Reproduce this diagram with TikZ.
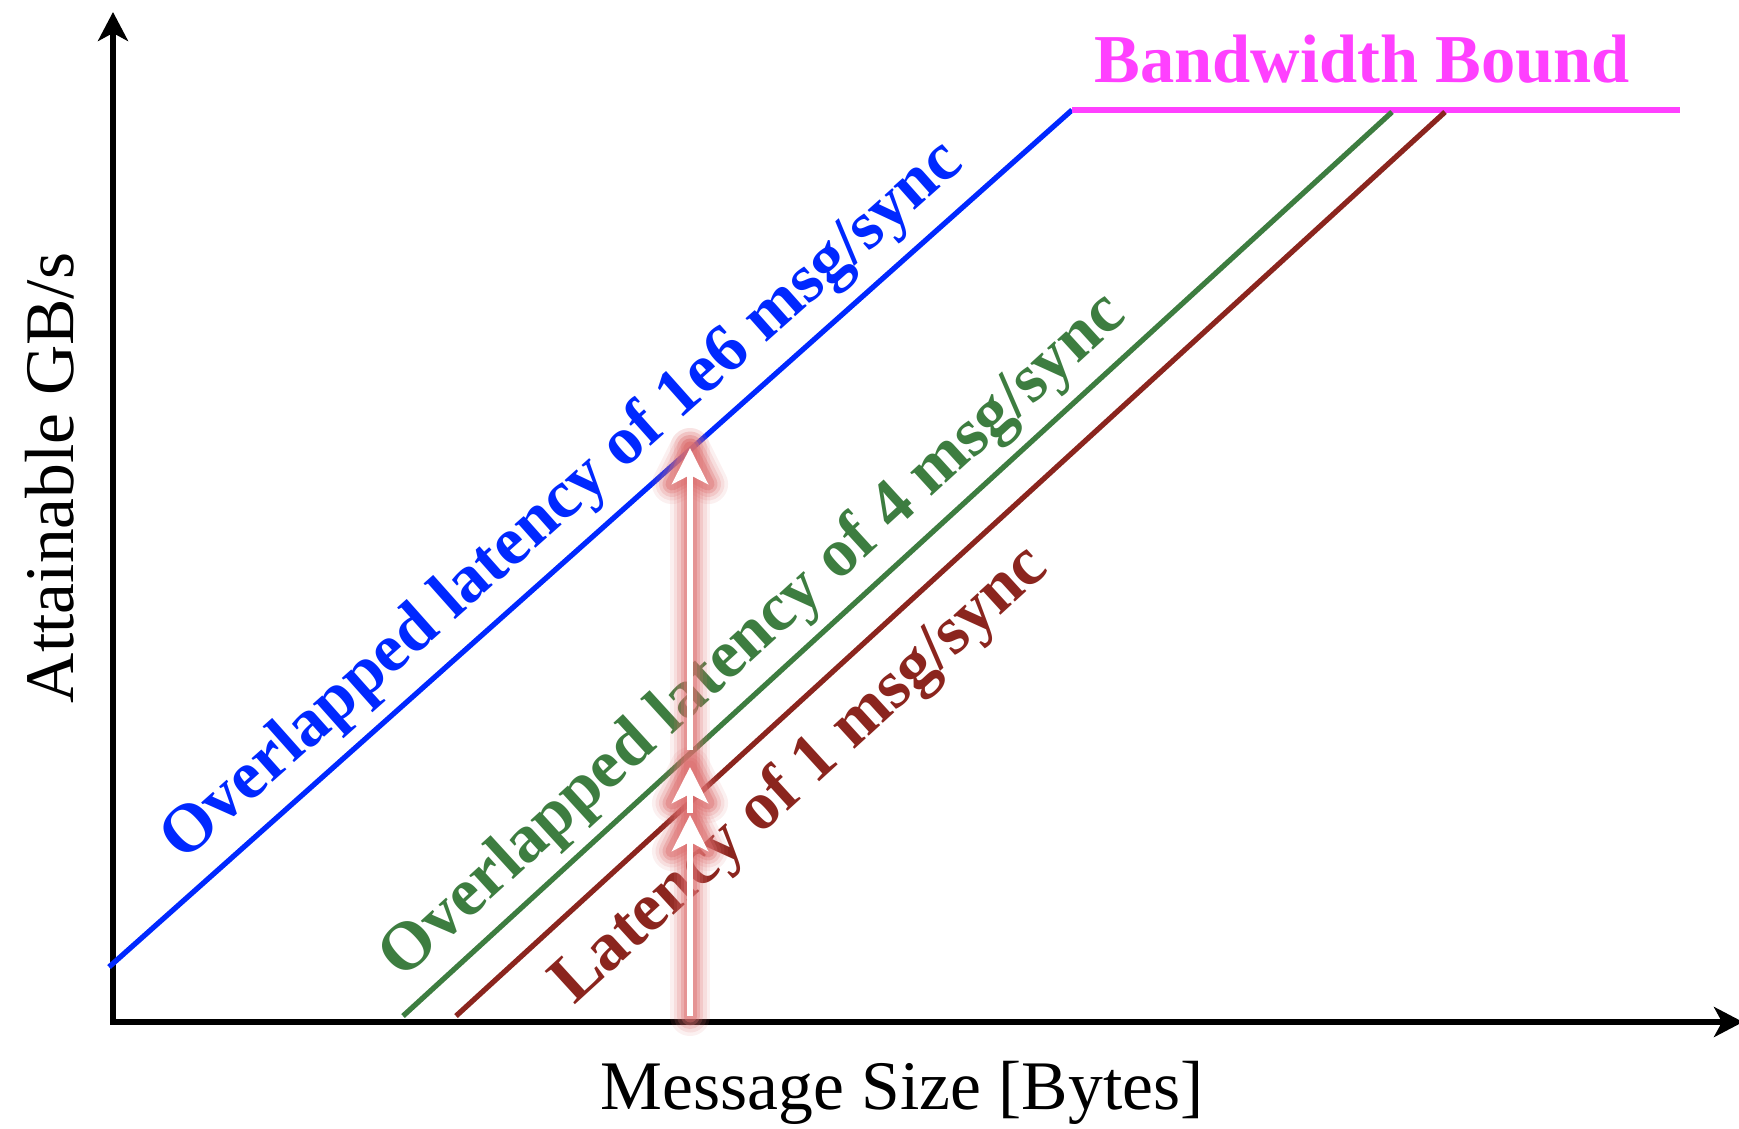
\documentclass[tikz,border=0pt]{standalone}
\usepackage{fontspec}
\setmainfont{Liberation Serif}
\usetikzlibrary{arrows.meta, positioning}

\definecolor{bwmagenta}{RGB}{255,64,255}
\definecolor{ovblue}{RGB}{0,40,255}
\definecolor{ovgreen}{RGB}{61,125,64}
\definecolor{latred}{RGB}{139,37,30}
\definecolor{glowpink}{RGB}{220,110,110}

\begin{document}
\begin{tikzpicture}[
    axis/.style={line width=1.6pt, {Stealth[length=0.29cm, width=0.3cm, inset=0.08cm]}-{Stealth[length=0.29cm, width=0.3cm, inset=0.08cm]}},
    bound/.style={line width=1.5pt},
    lbl/.style={font=\fontsize{19.5}{24}\selectfont\bfseries, inner sep=0pt},
    axlbl/.style={font=\fontsize{19.8}{24}\selectfont, inner sep=0pt},
    jump/.style={white, line width=1.8pt, -{Stealth[length=0.36cm, width=0.36cm, inset=0.09cm]}}
  ]
\useasboundingbox (0,0) rectangle (17.39,11.28);

% axes
\coordinate (ytop) at (1.13,11.16);
\coordinate (origin) at (1.13,1.06);
\coordinate (xend) at (17.43,1.06);
\draw[axis] (ytop) -- (origin) -- (xend);

% bounds
\coordinate (b0) at (1.09,1.61);
\coordinate (b1) at (10.72,10.18);
\coordinate (bw) at (16.80,10.18);
\coordinate (g0) at (4.03,1.12);
\coordinate (g1) at (13.92,10.16);
\coordinate (r0) at (4.56,1.12);
\coordinate (r1) at (14.45,10.16);
\draw[bound, ovblue] (b0) -- (b1);
\draw[bound, bwmagenta] (b1) -- (bw);
\draw[bound, ovgreen] (g0) -- (g1);
\draw[bound, latred] (r0) -- (r1);

% labels
\node[lbl, ovblue, rotate=41.67] (blueLbl) at (5.63,6.26) {Overlapped latency of 1e6 msg/sync};
\node[lbl, ovgreen, rotate=42.43] (greenLbl) at (7.54,4.91) {Overlapped latency of 4 msg/sync};
\node[lbl, latred, rotate=42.43] (redLbl) at (8.01,3.52) {Latency of 1 msg/sync};
\node[lbl, bwmagenta, anchor=base] (bwLbl) at (13.62,10.45) {Bandwidth Bound};
\node[axlbl, rotate=90, anchor=base] (yLbl) at (0.73,6.50) {Attainable GB/s};
\node[axlbl, anchor=base] (xLbl) at (9.02,0.19) {Message Size [Bytes]};

% jumps between the bounds
\coordinate (j0) at (6.90,1.12);
\coordinate (j1) at (6.90,3.13);
\coordinate (j2) at (6.90,3.15);
\coordinate (j3) at (6.90,3.61);
\coordinate (j4) at (6.90,3.78);
\coordinate (j5) at (6.90,6.80);

% soft glow under the white arrows
\foreach \w/\o in {0.40/0.10, 0.33/0.14, 0.26/0.2, 0.19/0.3, 0.13/0.4} {
  \draw[glowpink, line width=\w cm, opacity=\o, line cap=round] (j0) -- (j5);
  \foreach \t in {j1,j3,j5}
    \filldraw[glowpink, line width=\w cm, opacity=\o, line join=round]
      (\t) -- ++(-0.18,-0.36) -- ++(0.18,0.09) -- ++(0.18,-0.09) -- cycle;
}

\draw[jump] (j0) -- (j1);
\draw[jump] (j2) -- (j3);
\draw[jump] (j4) -- (j5);

\end{tikzpicture}
\end{document}
